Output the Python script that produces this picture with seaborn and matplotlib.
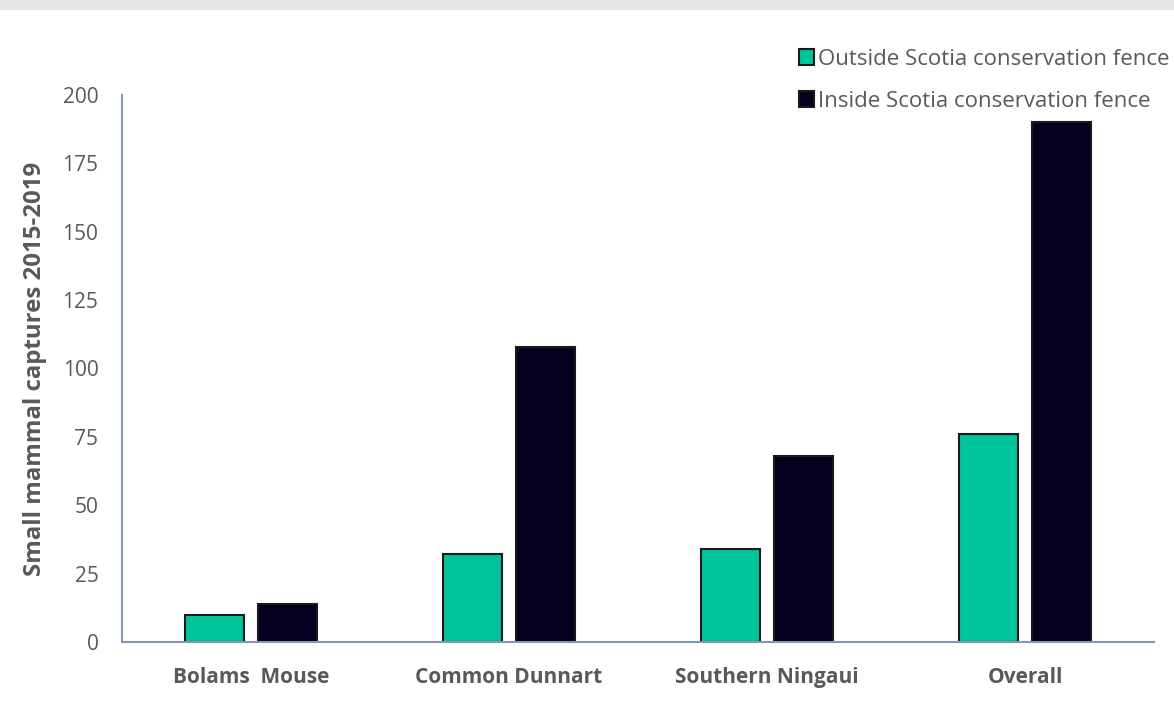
import matplotlib
matplotlib.use("Agg")
import matplotlib.pyplot as plt
import seaborn as sns
import pandas as pd
from matplotlib.patches import Rectangle

categories = ["Bolams  Mouse", "Common Dunnart", "Southern Ningaui", "Overall"]
outside = [10, 32, 34, 76]
inside = [14, 108, 68, 190]
series_names = ["Outside Scotia conservation fence", "Inside Scotia conservation fence"]
colors = ["#00C49A", "#03001F"]
yticks = [0, 25, 50, 75, 100, 125, 150, 175, 200]

df = pd.DataFrame({
    "category": categories * 2,
    "value": outside + inside,
    "series": [series_names[0]] * 4 + [series_names[1]] * 4,
})

sns.set_style("white")
plt.rcParams["font.family"] = ["Open Sans", "DejaVu Sans"]

fig = plt.figure(figsize=(11.74, 7.09), dpi=100)
fig.patches.append(Rectangle((0, 0.988), 1, 0.012, transform=fig.transFigure,
                             color="#e5e5e5", zorder=0))
ax = fig.add_axes([122 / 1174, 1 - 642 / 709, (1154 - 122) / 1174, (642 - 95) / 709])

sns.barplot(data=df, x="category", y="value", hue="series", palette=colors,
            width=0.57, gap=0.2, ax=ax, edgecolor="#1a1a1a", linewidth=1.5,
            saturation=1)

ax.set_ylim(0, 200)
ax.set_xlim(-0.5, 3.5)
ax.set_yticks(yticks)
ax.set_yticklabels([str(v) for v in yticks], fontsize=15, color="#595959")
ax.set_xticks(range(len(categories)))
ax.set_xticklabels(categories, fontsize=15, color="#595959", fontweight="bold")
ax.tick_params(axis="y", length=0, pad=17)
ax.tick_params(axis="x", length=0, pad=18)
ax.set_xlabel("")
ax.set_ylabel("Small mammal captures 2015-2019", fontsize=17.3, fontweight="bold",
              color="#595959", labelpad=11)
for s in ["top", "right"]:
    ax.spines[s].set_visible(False)
for s in ["left", "bottom"]:
    ax.spines[s].set_color("#8497B0")
    ax.spines[s].set_linewidth(1.5)

leg = ax.legend(loc="upper left", bbox_to_anchor=(790 / 1174, 1 - 40 / 709),
                bbox_transform=fig.transFigure, frameon=False, fontsize=16,
                handlelength=0.7, handleheight=0.7, handletextpad=0.15,
                labelspacing=0.95, labelcolor="#595959", borderaxespad=0)
for h in leg.legend_handles:
    h.set_edgecolor("#1a1a1a")

fig.savefig("out.png", dpi=100, facecolor="white")
